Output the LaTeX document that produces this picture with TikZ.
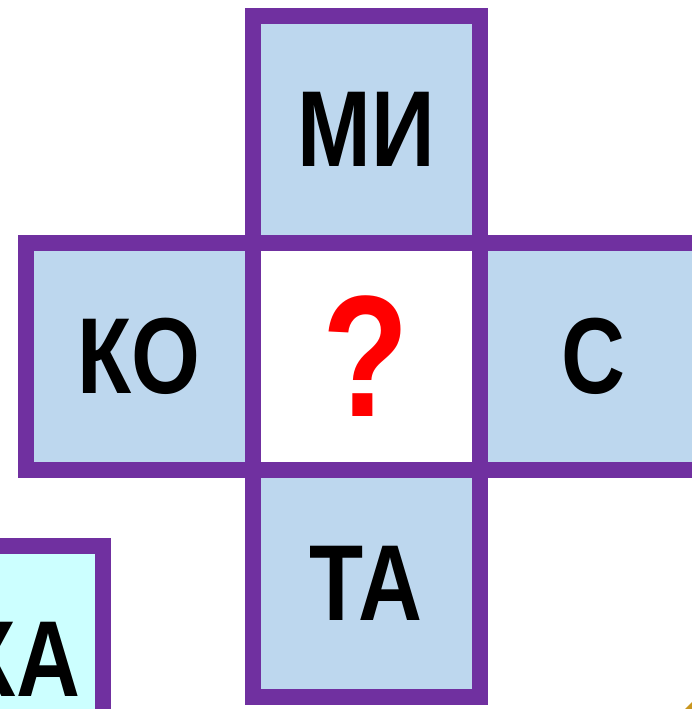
\documentclass[tikz,border=0pt]{standalone}
\usepackage{fontspec}
\newfontfamily\letra[FakeStretch=0.82]{Liberation Sans}
\usetikzlibrary{positioning}
\definecolor{roxo}{HTML}{7030A0}
\definecolor{azulclaro}{HTML}{BDD7EE}
\definecolor{ciano}{HTML}{CCFFFF}
\definecolor{ouro}{HTML}{C9961F}

\begin{document}
\begin{tikzpicture}[x=1pt, y=-1pt,
	celula/.style={draw=roxo, line width=16pt, fill=azulclaro, outer sep=0pt, inner sep=0pt,
		minimum width=227pt, minimum height=227pt,
		font=\letra\bfseries\fontsize{108}{108}\selectfont}]
	\useasboundingbox (0,0) rectangle (692,709);
	\clip (0,0) rectangle (692,709);

	% centro
	\node[celula, fill=white, text=red, font=\letra\bfseries\fontsize{173}{173}\selectfont] (centro) at (366,356.5) {?};

	% cruz
	\node[celula, above=0pt of centro] (mi) {МИ};
	\node[celula, left=0pt of centro] (ko) {КО};
	\node[celula, right=0pt of centro] (s) {С};
	\node[celula, below=0pt of centro] (ta) {ТА};

	% caixa de baixo
	\node[celula, fill=ciano, minimum width=164pt, anchor=north east] (ka) at (103,545.5) {КА};

	% canto
	\fill[ouro] (685,709) -- (692,702) -- (692,709) -- cycle;
\end{tikzpicture}
\end{document}
